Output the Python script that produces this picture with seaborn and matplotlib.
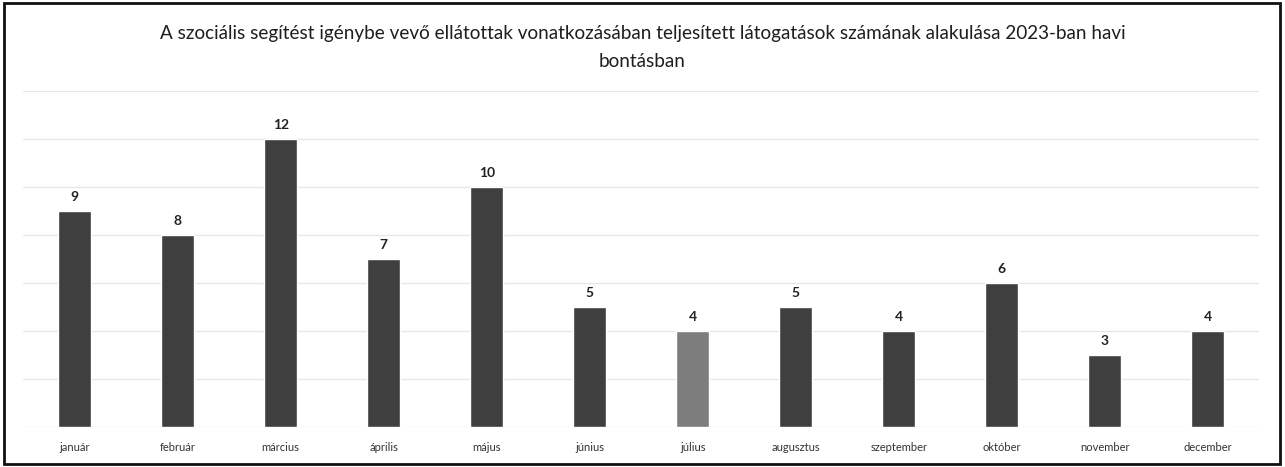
import pandas as pd
import seaborn as sns
import matplotlib.pyplot as plt
from matplotlib.patches import Rectangle

# Data
months = ['január', 'február', 'március', 'április', 'május', 'június',
          'július', 'augusztus', 'szeptember', 'október', 'november', 'december']
visits = [9, 8, 12, 7, 10, 5, 4, 5, 4, 6, 3, 4]
bar_colors = ['#3f3f3f'] * 6 + ['#7d7d7d'] + ['#3f3f3f'] * 5

title = ('A szociális segítést igénybe vevő ellátottak vonatkozásában teljesített '
         'látogatások számának alakulása 2023-ban havi\nbontásban')

sns.set_theme(style='white')
plt.rcParams['font.family'] = ['Lato', 'DejaVu Sans']

df = pd.DataFrame({'month': months, 'visits': visits})

fig = plt.figure(figsize=(12.85, 4.67), dpi=100)
ax = fig.add_axes([0.018, 0.0857, 0.962, 0.7193])

sns.barplot(data=df, x='month', y='visits', hue='month', palette=bar_colors,
            legend=False, width=0.32, ax=ax, saturation=1)

ax.set_ylim(0, 14)
ax.set_yticks(range(0, 15, 2))
ax.yaxis.grid(True, color='#e6e6e6', linewidth=0.9)
ax.set_axisbelow(True)
ax.tick_params(axis='y', left=False, labelleft=False)
ax.tick_params(axis='x', bottom=False, labelsize=8, colors='#333333', pad=5)
for s in ax.spines.values():
    s.set_visible(False)
ax.set_xlabel('')
ax.set_ylabel('')

for i, v in enumerate(visits):
    ax.text(i, v + 0.35, str(v), ha='center', va='bottom', fontsize=10,
            fontweight='bold', color='#222222')

fig.text(0.5, 0.898, title, ha='center', va='center', fontsize=13.6,
         color='#1e1e1e', linespacing=1.75)

fig.patches.append(Rectangle((0.003, 0.006), 0.993, 0.987, transform=fig.transFigure,
                             fill=False, edgecolor='#111111', linewidth=2))

fig.savefig('out.png', dpi=100)
plt.close(fig)
